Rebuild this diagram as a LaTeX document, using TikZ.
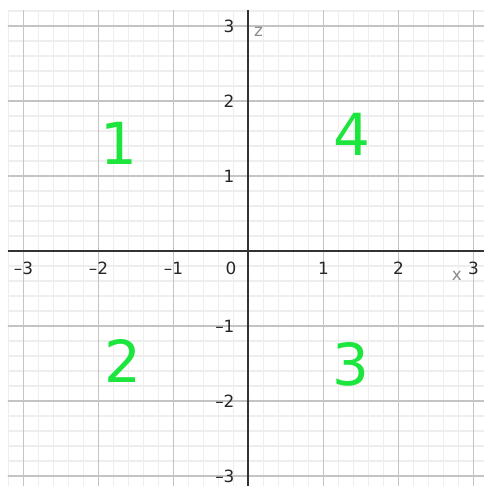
\documentclass[tikz,border=0pt]{standalone}
\usepackage{fontspec}
\setmainfont{DejaVu Sans}
\usepackage{tikz}
\definecolor{quadgreen}{RGB}{28,230,62}
\definecolor{minorgrid}{RGB}{238,238,238}
\definecolor{majorgrid}{RGB}{196,196,196}
\definecolor{axisgray}{RGB}{140,140,140}
\tikzset{
  minorline/.style = {minorgrid,line width=0.5pt},
  majorline/.style = {majorgrid,line width=0.55pt},
  axisline/.style  = {black!80,line width=0.75pt},
  ticklabel/.style = {font=\fontsize{6.4}{7}\selectfont,text=black!85,inner sep=0pt},
  axislabel/.style = {font=\fontsize{6.4}{7}\selectfont,text=axisgray,inner sep=0pt},
  quadlabel/.style = {font=\fontsize{22}{22}\selectfont,text=quadgreen,inner sep=0pt}
}

\begin{document}
\begin{tikzpicture}
  \useasboundingbox (-3.313,-3.133) rectangle (3.14,3.347);
  % grid
  \begin{scope}
    \clip (-3.207,-3.133) rectangle (3.14,3.213);
    \draw[minorline] (-3.4,-3.4) grid[step=0.2] (3.4,3.4);
    \draw[majorline] (-3.4,-3.4) grid[step=1] (3.4,3.4);
  \end{scope}
  % axes
  \coordinate (xl) at (-3.207,0);
  \coordinate (xr) at (3.14,0);
  \coordinate (zt) at (0,3.213);
  \coordinate (zb) at (0,-3.133);
  \draw[axisline] (xl) -- (xr);
  \draw[axisline] (zb) -- (zt);
  \foreach \i/\t in {-3/–3,-2/–2,-1/–1,1/1,2/2,3/3}
    \node[ticklabel] (xt\i) at (\i,-0.233) {\t};
  \foreach \j/\t in {-3/–3,-2/–2,-1/–1,1/1,2/2,3/3}
    \node[ticklabel,anchor=east] (zt\j) at (-0.18,\j) {\t};
  \node[ticklabel] (orig) at (-0.233,-0.233) {0};
  \node[axislabel] (xlab) at (2.78,-0.333) {x};
  \node[axislabel] (zlab) at (0.133,2.92) {z};
  % quadrants
  \node[quadlabel] (q1) at (-1.727,1.44) {1};
  \node[quadlabel] (q2) at (-1.68,-1.467) {2};
  \node[quadlabel] (q3) at (1.367,-1.507) {3};
  \node[quadlabel] (q4) at (1.373,1.56) {4};
\end{tikzpicture}
\end{document}
